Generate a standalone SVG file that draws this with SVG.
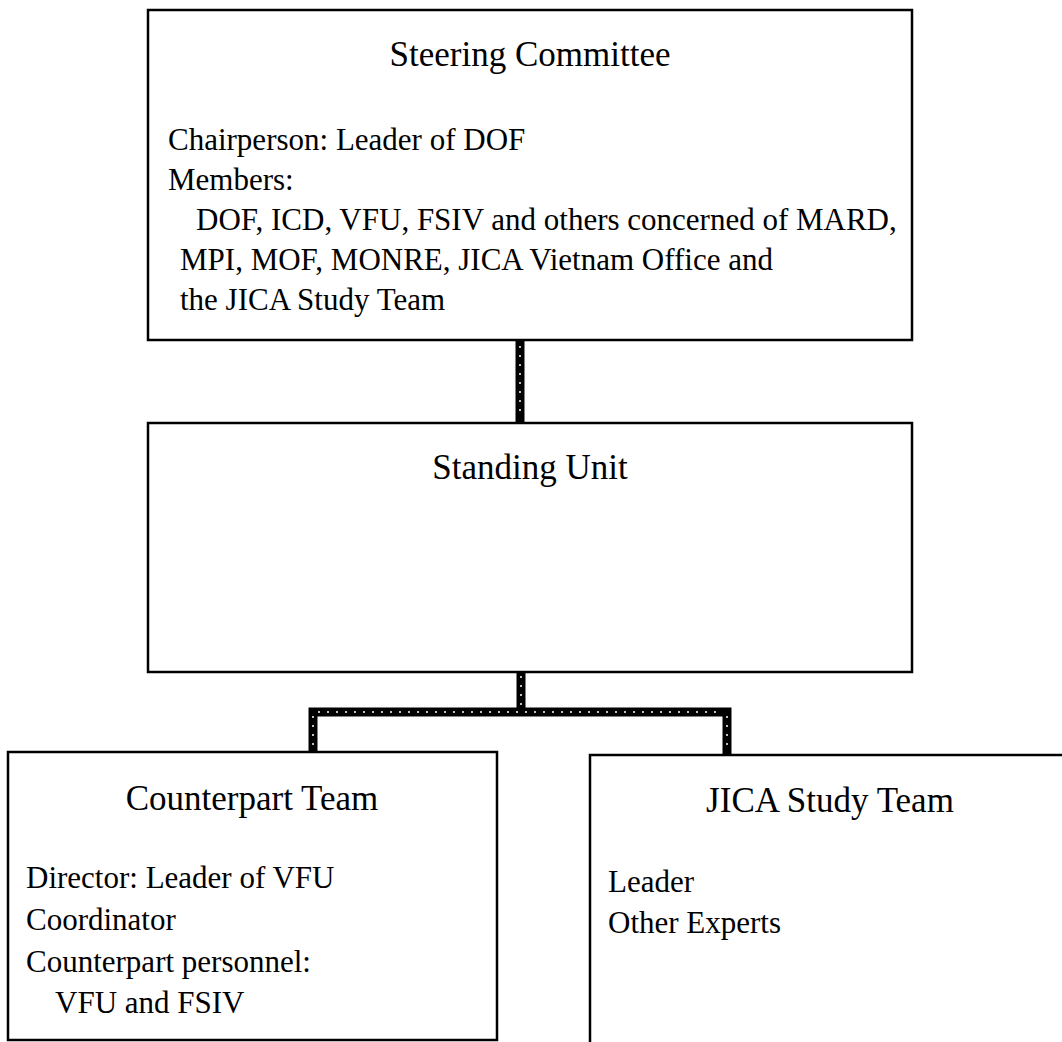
<svg xmlns="http://www.w3.org/2000/svg" width="1062" height="1042" viewBox="0 0 1062 1042">
<style>
.box{fill:#fff;stroke:#000;stroke-width:2.5}
.title{font-family:"Liberation Serif",serif;font-size:35px;fill:#000;text-anchor:middle}
.body{font-family:"Liberation Serif",serif;font-size:31px;fill:#000}
.conn{fill:none;stroke:#000;stroke-width:9;stroke-linejoin:miter}
.inner{fill:none;stroke:#fff;stroke-width:1.5;stroke-dasharray:2 7}
</style>
<rect width="1062" height="1042" fill="#fff"/>
<g id="connectors">
<path class="conn" d="M520 340 V423"/>
<path class="conn" d="M521 672 V712 M313 752 V712 H727 V755"/>
<path class="inner" d="M520 346 V418 M521 676 V708 M318 712 H722 M313 716 V748 M727 716 V750"/>
</g>
<g id="steering">
<rect class="box" x="148" y="10" width="764" height="330"/>
<text class="title" x="530" y="66">Steering Committee</text>
<text class="body" x="168" y="150">Chairperson: Leader of DOF</text>
<text class="body" x="168" y="190">Members:</text>
<text class="body" x="196" y="230">DOF, ICD, VFU, FSIV and others concerned of MARD,</text>
<text class="body" x="180" y="270">MPI, MOF, MONRE, JICA Vietnam Office and</text>
<text class="body" x="180" y="310">the JICA Study Team</text>
</g>
<g id="standing">
<rect class="box" x="148" y="423" width="764" height="249"/>
<text class="title" x="530" y="479">Standing Unit</text>
</g>
<g id="counterpart">
<rect class="box" x="8" y="752" width="489" height="288"/>
<text class="title" x="252" y="810">Counterpart Team</text>
<text class="body" x="26" y="888">Director: Leader of VFU</text>
<text class="body" x="26" y="930">Coordinator</text>
<text class="body" x="26" y="972">Counterpart personnel:</text>
<text class="body" x="55" y="1013">VFU and FSIV</text>
</g>
<g id="jica">
<rect class="box" x="590" y="755" width="490" height="300"/>
<text class="title" x="830" y="812">JICA Study Team</text>
<text class="body" x="608" y="892">Leader</text>
<text class="body" x="608" y="933">Other Experts</text>
</g>
</svg>
